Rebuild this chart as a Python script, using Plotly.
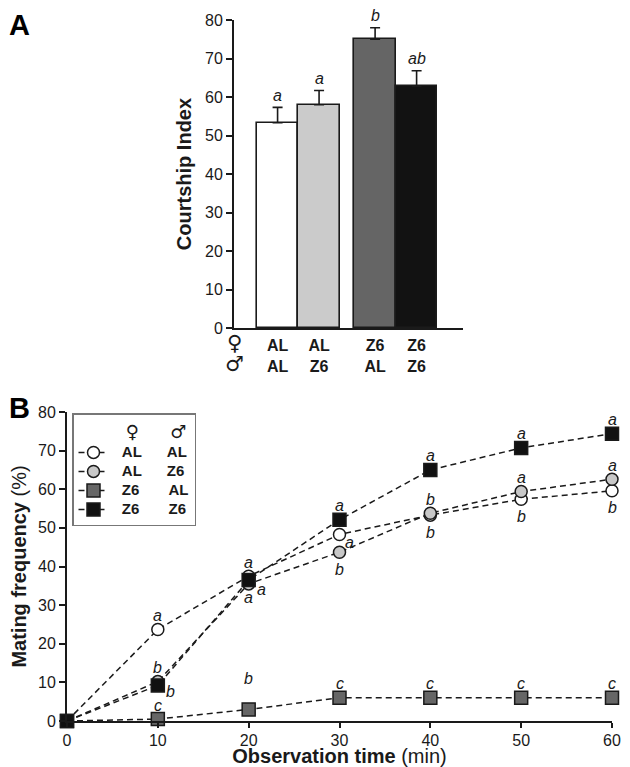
import plotly.graph_objects as go

# ---------------- Panel A data ----------------
female_a = ["AL", "AL", "Z6", "Z6"]
male_a = ["AL", "Z6", "AL", "Z6"]
courtship_index = [53.3, 58.0, 75.0, 62.8]
courtship_sem = [4.0, 3.7, 3.0, 4.0]
courtship_letters = ["a", "a", "b", "ab"]

# ---------------- Panel B data ----------------
times = [0, 10, 20, 30, 40, 50, 60]
mating_al_al = [0, 23.7, 37.5, 48.3, 53.3, 57.4, 59.6]
mating_al_z6 = [0, 10.2, 35.5, 43.7, 53.8, 59.4, 62.6]
mating_z6_al = [0, 0.5, 3.0, 6.0, 6.0, 6.0, 6.0]
mating_z6_z6 = [0, 9.2, 36.5, 52.1, 65.0, 70.7, 74.4]
letters_al_al = ["", "a", "a", "a", "b", "b", "b"]
letters_al_z6 = ["", "b", "a", "b", "b", "a", "a"]
letters_z6_al = ["", "c", "b", "c", "c", "c", "c"]
letters_z6_z6 = ["", "b", "a", "a", "a", "a", "a"]

# ---------------- styling / layout ----------------
# page body has an 8px margin; the figure fills the rest of the 630x767 window
OFF = 8
W, H = 630 - OFF, 767 - OFF


def px(x):
    return (x - OFF) / W


def py(y):
    return 1 - (y - OFF) / H


FONT = "Liberation Sans, Arial, sans-serif"
SYM_FONT = "DejaVu Sans, sans-serif"
INK = "#1a1a1a"
bar_colors = ["#ffffff", "#cbcbcb", "#656565", "#121212"]
bar_pos = [1.05, 2.05, 3.4, 4.4]

fig = go.Figure()

fig.add_trace(go.Bar(
    x=bar_pos, y=courtship_index, width=1.0,
    marker=dict(color=bar_colors, line=dict(color=INK, width=1.6)),
    error_y=dict(type="data", symmetric=False, array=courtship_sem,
                 arrayminus=[0] * len(courtship_sem),
                 color=INK, thickness=1.6, width=5),
    xaxis="x", yaxis="y", showlegend=False,
))

annotations = []
for xp, v, e, lt in zip(bar_pos, courtship_index, courtship_sem, courtship_letters):
    annotations.append(dict(x=xp, y=v + e, xref="x", yref="y", text=lt,
                            showarrow=False, yshift=12, borderpad=0,
                            font=dict(family=FONT, size=16, style="italic", color=INK)))


def nb(n):
    return "\u00a0" * n


def big(s):
    return f'<span style="font-size:15px">{s}</span>'


series = [
    (big(nb(2) + "AL" + nb(6) + "AL"), mating_al_al, letters_al_al, "circle", "#ffffff",
     ["", "above", "above", "rightlow", "below", "below", "below"]),
    (big(nb(2) + "AL" + nb(6) + "Z6"), mating_al_z6, letters_al_z6, "circle", "#c8c8c8",
     ["", "above", "right", "below", "above", "above", "above"]),
    (big(nb(2) + "Z6" + nb(7) + "AL"), mating_z6_al, letters_z6_al, "square", "#666666",
     ["", "above", "high", "above", "above", "above", "above"]),
    (big(nb(2) + "Z6" + nb(7) + "Z6"), mating_z6_z6, letters_z6_z6, "square", "#111111",
     ["", "right", "below", "above", "above", "above", "above"]),
]

offsets = {
    "above": (0, 14),
    "below": (0, -17),
    "right": (13, -6),
    "rightlow": (10, -8),
    "high": (0, 31),
}

for name, vals, lets, sym, fill, pos in series:
    fig.add_trace(go.Scatter(
        x=times, y=vals, name=name, mode="lines+markers",
        line=dict(color=INK, width=1.5, dash="6px,4px"),
        marker=dict(symbol=sym, size=12 if sym == "circle" else 13, color=fill,
                    line=dict(color=INK, width=1.5)),
        cliponaxis=False, xaxis="x2", yaxis="y2",
    ))
    for t, v, lt, p in zip(times, vals, lets, pos):
        if not lt:
            continue
        dx, dy = offsets[p]
        annotations.append(dict(x=t, y=v, xref="x2", yref="y2", text=lt,
                                showarrow=False, xshift=dx, yshift=dy,
                                font=dict(family=FONT, size=16, style="italic", color=INK)))

# Panel letters
annotations.append(dict(x=px(19), y=py(8), xref="paper", yref="paper", text="<b>A</b>",
                        showarrow=False, xanchor="center", yanchor="top", borderpad=0,
                        font=dict(family=FONT, size=29, color="#000")))
annotations.append(dict(x=px(19), y=py(408), xref="paper", yref="paper", text="<b>B</b>",
                        showarrow=False, xanchor="center", yanchor="middle", borderpad=0,
                        font=dict(family=FONT, size=29, color="#000")))
# sex symbols in panel A
annotations.append(dict(x=px(234), y=py(343), xref="paper", yref="paper", text="<b>\u2640</b>",
                        showarrow=False, xanchor="center", yanchor="middle",
                        font=dict(family=SYM_FONT, size=21, color=INK)))
annotations.append(dict(x=px(234), y=py(364), xref="paper", yref="paper", text="<b>\u2642</b>",
                        showarrow=False, xanchor="center", yanchor="middle",
                        font=dict(family=SYM_FONT, size=21, color=INK)))

tick_font = dict(family=FONT, size=16, color=INK)
title_font = dict(family=FONT, size=20, color=INK)

common = dict(showline=True, linecolor=INK, linewidth=2, showgrid=False, zeroline=False,
              tickfont=tick_font, automargin=False, fixedrange=True)

fig.update_layout(
    width=W, height=H,
    margin=dict(l=0, r=0, t=0, b=0),
    paper_bgcolor="white", plot_bgcolor="white",
    font=dict(family=FONT, color=INK),
    bargap=0,
    xaxis=dict(domain=[px(234), px(463)], range=[0, (463 - 234) / 41.5],
               tickvals=bar_pos,
               ticktext=[f"<b>{f}</b><br><b>{m}</b>" for f, m in zip(female_a, male_a)],
               ticks="", ticklabelstandoff=2, anchor="y", **common),
    yaxis=dict(domain=[py(328), py(20)], range=[0, 80], dtick=10,
               ticks="outside", ticklen=6, tickwidth=2, tickcolor=INK,
               title=dict(text="<b>Courtship Index</b>", font=title_font, standoff=8),
               anchor="x", **common),
    xaxis2=dict(domain=[px(67), px(612)], range=[0, 60], dtick=10,
                ticks="outside", ticklen=5, tickwidth=2, tickcolor=INK,
                ticklabelstandoff=-1,
                title=dict(text="<b>Observation time</b> (min)", font=title_font, standoff=4),
                anchor="y2", **common),
    yaxis2=dict(domain=[py(721), py(412)], range=[0, 80], dtick=10,
                ticks="outside", ticklen=6, tickwidth=2, tickcolor=INK,
                title=dict(text="<b>Mating frequency</b> (%)", font=title_font, standoff=8),
                anchor="x2", **common),
    legend=dict(x=px(72), y=py(413), xanchor="left", yanchor="top",
                bgcolor="white", bordercolor="#777777", borderwidth=1.5,
                font=dict(family=FONT, size=12, color=INK, weight="bold"),
                title=dict(text=nb(8) + "\u2640" + nb(5) + "\u2642",
                           font=dict(family=SYM_FONT, size=18, color=INK, weight="bold")),
                itemwidth=30, tracegroupgap=0),
    annotations=annotations,
    showlegend=True,
)

fig.write_html("out.html")
